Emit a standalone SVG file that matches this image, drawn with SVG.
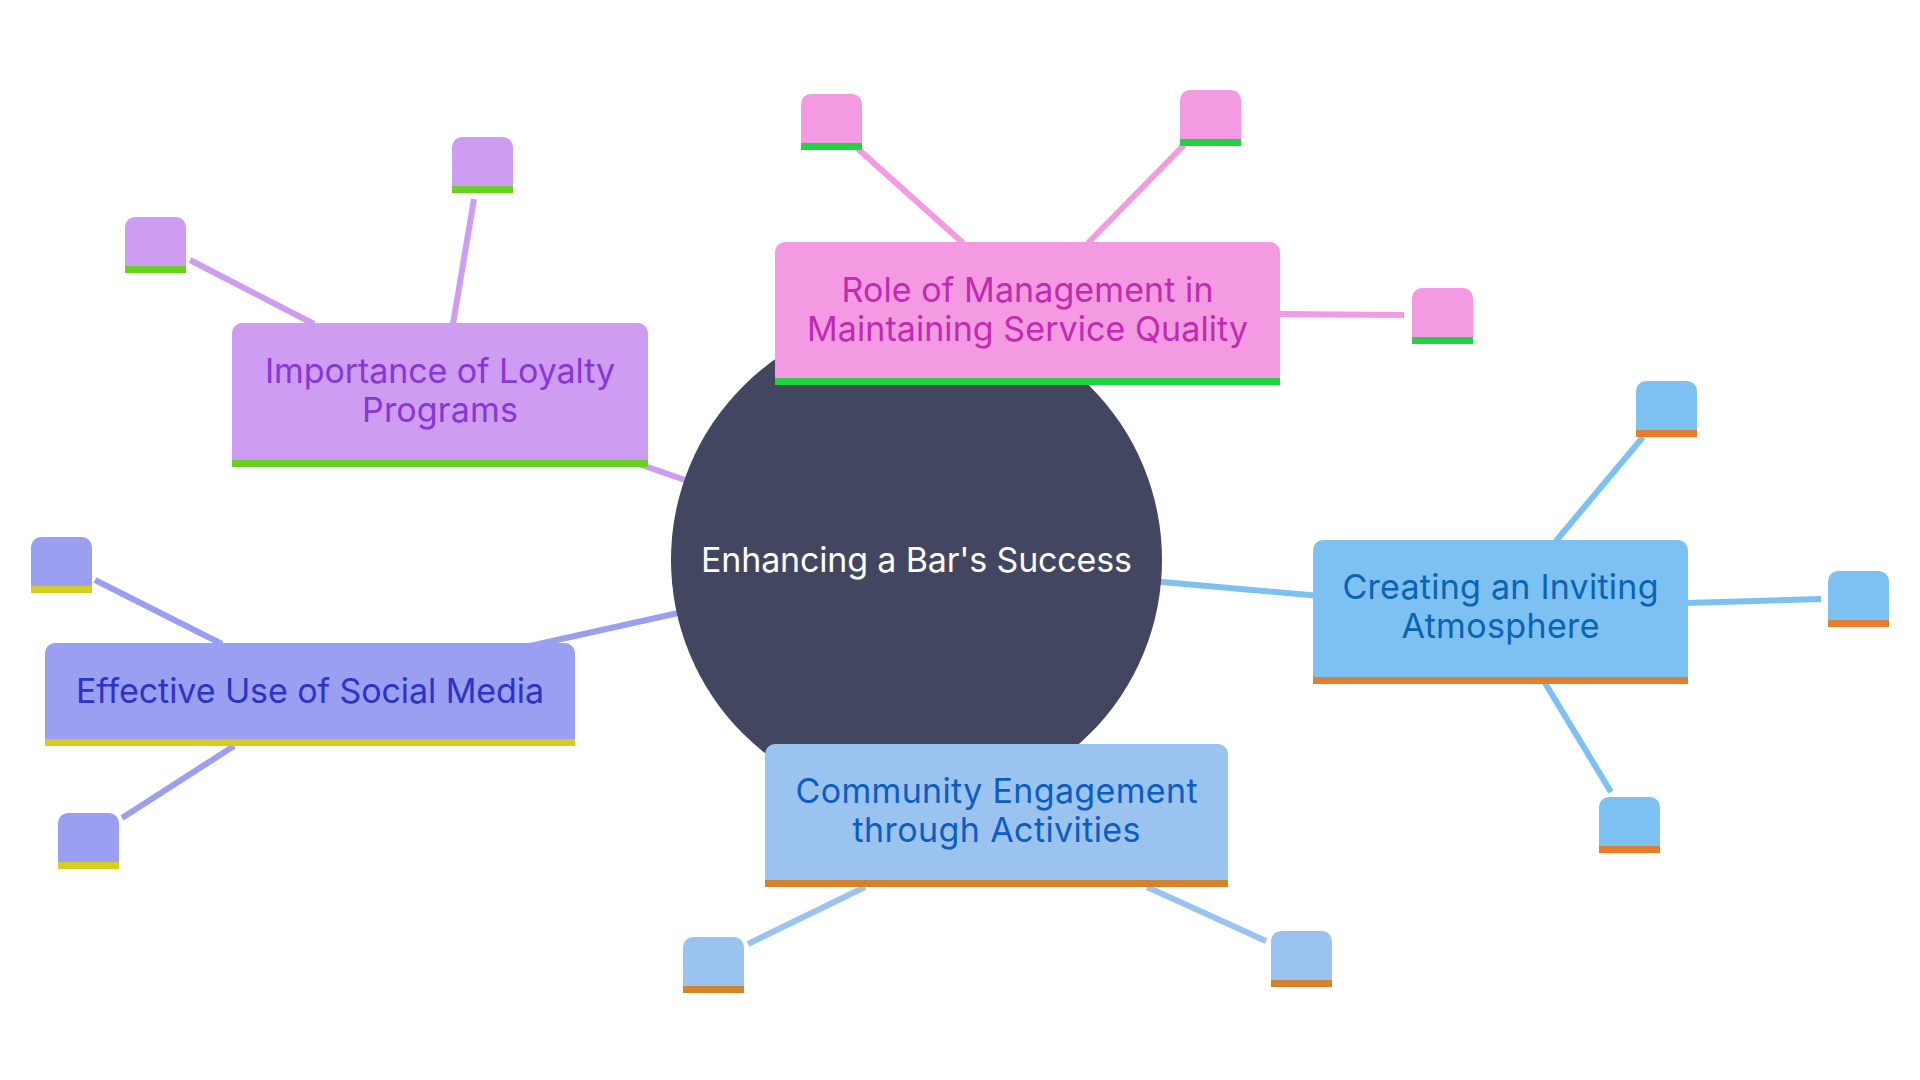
<svg xmlns="http://www.w3.org/2000/svg" width="1920" height="1080" viewBox="0 0 1920 1080">
  <style>
    text { font-family: Inter, "Noto Sans", "Liberation Sans", sans-serif; font-size: 34px; text-anchor: middle; }
    .edge { fill: none; stroke-width: 6; stroke-linecap: butt; }
    .pink { fill: #F39AE3; }  .pinkS { stroke: #F39AE3; }  .pinkT { fill: #C02BAF; } .pinkB { fill: #1FD43F; }
    .purp { fill: #CE9CF1; }  .purpS { stroke: #CE9CF1; }  .purpT { fill: #8936D6; } .purpB { fill: #66D11F; }
    .peri { fill: #9A9FF1; }  .periS { stroke: #9A9FF1; }  .periT { fill: #2C33C6; } .periB { fill: #D6CC22; }
    .blue { fill: #7CC1F2; }  .blueS { stroke: #7CC1F2; }  .blueT { fill: #0B63B6; } .blueB { fill: #E67E2E; }
    .lblu { fill: #9BC3EF; }  .lbluS { stroke: #9BC3EF; }  .lbluT { fill: #0D5CC4; } .lbluB { fill: #D5832A; }
  </style>
  <rect width="1920" height="1080" fill="#FFFFFF"/>

  <g id="connectors">
    <line class="edge purpS" x1="440" y1="395" x2="916" y2="560"/>
    <line class="edge periS" x1="310" y1="695" x2="916" y2="560"/>
    <line class="edge blueS" x1="916" y1="560" x2="1500" y2="612"/>
    <line class="edge pinkS" x1="857" y1="148" x2="963" y2="243"/>
    <line class="edge pinkS" x1="1184" y1="145" x2="1088" y2="243"/>
    <line class="edge pinkS" x1="1280" y1="314" x2="1404" y2="315"/>
    <line class="edge purpS" x1="190" y1="260" x2="314" y2="324"/>
    <line class="edge purpS" x1="474" y1="199" x2="453" y2="324"/>
    <line class="edge periS" x1="95" y1="580" x2="222" y2="644"/>
    <line class="edge periS" x1="122" y1="818" x2="234" y2="746"/>
    <line class="edge blueS" x1="1556" y1="541" x2="1643" y2="437"/>
    <line class="edge blueS" x1="1687" y1="603" x2="1821" y2="599"/>
    <line class="edge blueS" x1="1545" y1="683" x2="1611" y2="792"/>
    <line class="edge lbluS" x1="748" y1="944" x2="865" y2="887"/>
    <line class="edge lbluS" x1="1147" y1="887" x2="1266" y2="941"/>
  </g>

  <g id="root">
    <circle cx="916.5" cy="560" r="245.5" fill="#424660"/>
    <text x="916.5" y="572" fill="#FFFFFF" textLength="431">Enhancing a Bar's Success</text>
  </g>

  <g id="management">
    <path class="pink" d="M775 385 V252 A10 10 0 0 1 785 242 H1270 A10 10 0 0 1 1280 252 V385 Z"/>
    <rect class="pinkB" x="775" y="378" width="505" height="7"/>
    <text class="pinkT" x="1027.5" y="302" textLength="372">Role of Management in</text>
    <text class="pinkT" x="1027.5" y="341" textLength="441">Maintaining Service Quality</text>
  </g>

  <g id="loyalty">
    <path class="purp" d="M232 467 V333 A10 10 0 0 1 242 323 H638 A10 10 0 0 1 648 333 V467 Z"/>
    <rect class="purpB" x="232" y="460" width="416" height="7"/>
    <text class="purpT" x="440" y="383" textLength="350">Importance of Loyalty</text>
    <text class="purpT" x="440" y="422" textLength="156">Programs</text>
  </g>

  <g id="social">
    <path class="peri" d="M45 746 V653 A10 10 0 0 1 55 643 H565 A10 10 0 0 1 575 653 V746 Z"/>
    <rect class="periB" x="45" y="739" width="530" height="7"/>
    <text class="periT" x="310" y="703" textLength="468">Effective Use of Social Media</text>
  </g>

  <g id="atmosphere">
    <path class="blue" d="M1313 684 V550 A10 10 0 0 1 1323 540 H1678 A10 10 0 0 1 1688 550 V684 Z"/>
    <rect class="blueB" x="1313" y="677" width="375" height="7"/>
    <text class="blueT" x="1500.5" y="599" textLength="316">Creating an Inviting</text>
    <text class="blueT" x="1500.5" y="638" textLength="198">Atmosphere</text>
  </g>

  <g id="community">
    <path class="lblu" d="M765 887 V754 A10 10 0 0 1 775 744 H1218 A10 10 0 0 1 1228 754 V887 Z"/>
    <rect class="lbluB" x="765" y="880" width="463" height="7"/>
    <text class="lbluT" x="996.5" y="803" textLength="402">Community Engagement</text>
    <text class="lbluT" x="996.5" y="842" textLength="288">through Activities</text>
  </g>

  <defs>
    <path id="leaf" d="M0 56 V10 A10 10 0 0 1 10 0 H51 A10 10 0 0 1 61 10 V56 Z"/>
  </defs>

  <g id="pink-leaf-1"><use href="#leaf" class="pink" x="801" y="94"/><rect class="pinkB" x="801" y="143" width="61" height="7"/></g>
  <g id="pink-leaf-2"><use href="#leaf" class="pink" x="1180" y="90"/><rect class="pinkB" x="1180" y="139" width="61" height="7"/></g>
  <g id="pink-leaf-3"><use href="#leaf" class="pink" x="1412" y="288"/><rect class="pinkB" x="1412" y="337" width="61" height="7"/></g>

  <g id="purple-leaf-1"><use href="#leaf" class="purp" x="125" y="217"/><rect class="purpB" x="125" y="266" width="61" height="7"/></g>
  <g id="purple-leaf-2"><use href="#leaf" class="purp" x="452" y="137"/><rect class="purpB" x="452" y="186" width="61" height="7"/></g>

  <g id="social-leaf-1"><use href="#leaf" class="peri" x="31" y="537"/><rect class="periB" x="31" y="586" width="61" height="7"/></g>
  <g id="social-leaf-2"><use href="#leaf" class="peri" x="58" y="813"/><rect class="periB" x="58" y="862" width="61" height="7"/></g>

  <g id="atmo-leaf-1"><use href="#leaf" class="blue" x="1636" y="381"/><rect class="blueB" x="1636" y="430" width="61" height="7"/></g>
  <g id="atmo-leaf-2"><use href="#leaf" class="blue" x="1828" y="571"/><rect class="blueB" x="1828" y="620" width="61" height="7"/></g>
  <g id="atmo-leaf-3"><use href="#leaf" class="blue" x="1599" y="797"/><rect class="blueB" x="1599" y="846" width="61" height="7"/></g>

  <g id="community-leaf-1"><use href="#leaf" class="lblu" x="683" y="937"/><rect class="lbluB" x="683" y="986" width="61" height="7"/></g>
  <g id="community-leaf-2"><use href="#leaf" class="lblu" x="1271" y="931"/><rect class="lbluB" x="1271" y="980" width="61" height="7"/></g>
</svg>
